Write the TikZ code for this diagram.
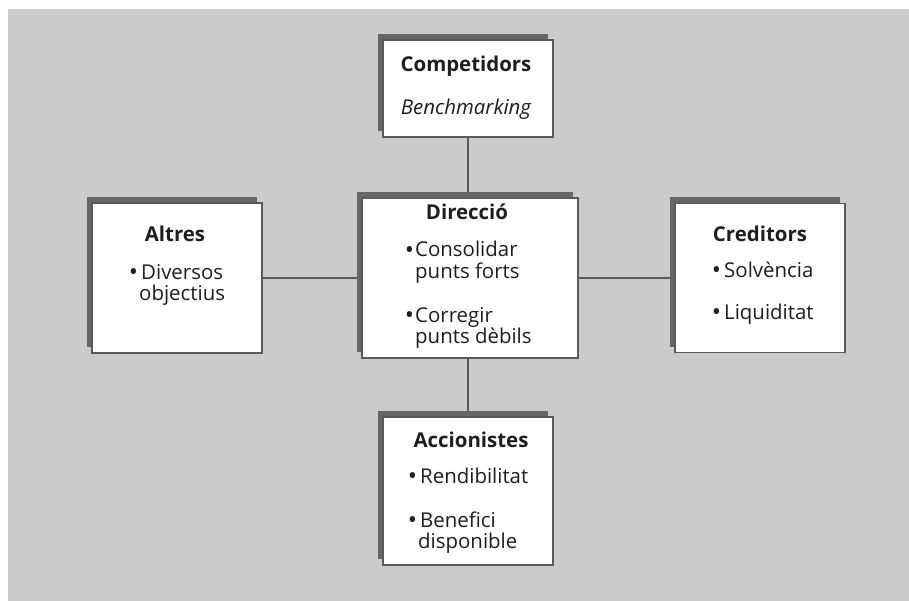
\documentclass[tikz,border=0pt]{standalone}
\usepackage{fontspec}
\setmainfont{Open Sans}
\usetikzlibrary{shadows}
\definecolor{bggray}{HTML}{CBCBCB}
\definecolor{shadowgray}{HTML}{666666}
\definecolor{edgegray}{HTML}{5A5A5A}
\definecolor{inkgray}{HTML}{1E1E1E}
\newcommand\bulleted[1]{\llap{\raisebox{-1.5bp}{\scalebox{1.2}{\textbullet}}\hspace{1bp}}#1}
% two lines, top line on the node's baseline
\newcommand\twolines[2]{\begin{tabular}[t]{@{}l@{}}#1\\#2\end{tabular}}
\begin{document}
\begin{tikzpicture}[x=1bp,y=-1bp,
  panel/.style={draw=edgegray, line width=1.3bp, fill=white, inner sep=0,
    drop shadow={shadow xshift=-5.5bp, shadow yshift=6bp, fill=shadowgray, opacity=1}},
  link/.style={draw=edgegray, line width=2bp},
  heading/.style={font=\fontsize{20.5}{21}\selectfont\bfseries, text=inkgray, anchor=base, inner sep=0},
  entry/.style={font=\fontsize{20.5}{20.5}\selectfont, text=inkgray, anchor=base west, inner sep=0},
]
\useasboundingbox (0,0) rectangle (909,601);
\fill[bggray] (8,9) rectangle (909,601);

% connectors, behind the panels
\node[inner sep=0, minimum width=170bp, minimum height=97bp] (compA) at (468,88.5) {};
\node[inner sep=0, minimum width=170bp, minimum height=148bp] (accA) at (468,491) {};
\node[inner sep=0, minimum width=170bp, minimum height=150bp] (altA) at (177,278) {};
\node[inner sep=0, minimum width=170bp, minimum height=149bp] (credA) at (760,278) {};
\draw[link] (compA.south) -- (accA.north);
\draw[link] (altA.east) -- (credA.west);

% panels
\node[panel, minimum width=170bp, minimum height=97bp] (comp) at (468,88.5) {};
\node[panel, minimum width=216bp, minimum height=160bp] (dir) at (470,278) {};
\node[panel, minimum width=170bp, minimum height=148bp] (acc) at (468,491) {};
\node[panel, minimum width=170bp, minimum height=150bp] (alt) at (177,278) {};
\node[panel, minimum width=170bp, minimum height=149bp] (cred) at (760,278) {};

% Competidors
\node[heading] (compT) at (466,72) {Competidors};
\node[heading, font=\fontsize{20.5}{21}\selectfont\itshape] (compB) at (466,115) {Benchmarking};

% Direcció
\node[heading] (dirT) at (467,220) {Direcció};
\node[entry] (dir1) at (415,257) {\twolines{\bulleted{Consolidar}}{punts forts}};
\node[entry] (dir2) at (415,322) {\twolines{\bulleted{Corregir}}{punts dèbils}};

% Altres
\node[heading] (altT) at (175,242) {Altres};
\node[entry] (alt1) at (139,279) {\twolines{\bulleted{\hspace{2bp}Diversos}}{objectius}};

% Creditors
\node[heading] (credT) at (760,242) {Creditors};
\node[entry] (cred1) at (722,277) {\bulleted{\hspace{2bp}Solvència}};
\node[entry] (cred2) at (722,319) {\bulleted{\hspace{2bp}Liquiditat}};

% Accionistes
\node[heading] (accT) at (471,447) {Accionistes};
\node[entry] (acc1) at (418,483) {\bulleted{\hspace{2bp}Rendibilitat}};
\node[entry] (acc2) at (418,527) {\twolines{\bulleted{\hspace{2bp}Benefici}}{disponible}};
\end{tikzpicture}
\end{document}
